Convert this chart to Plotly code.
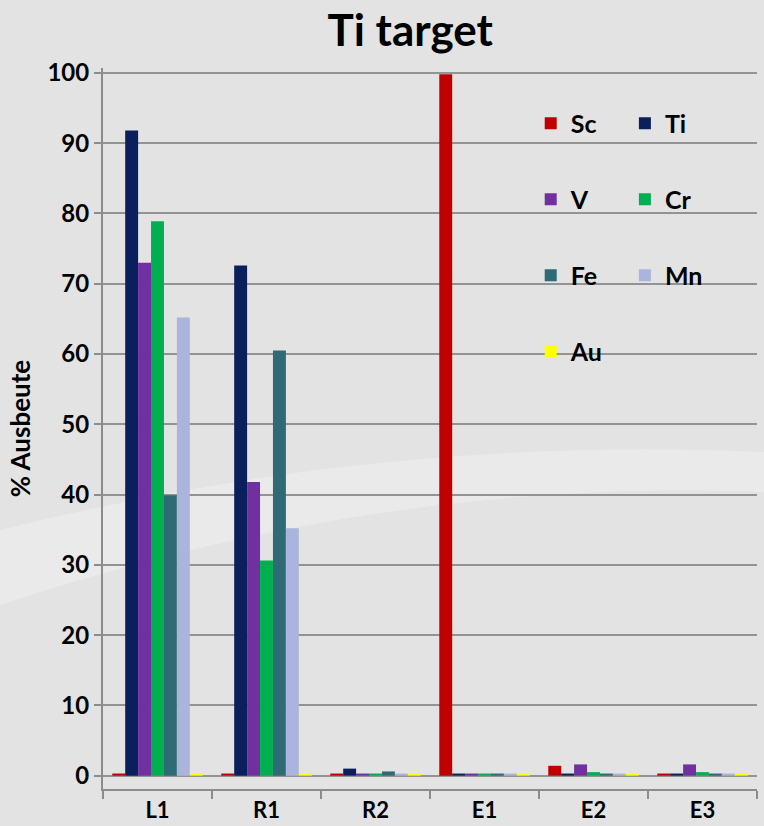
import plotly.graph_objects as go

# Yield per fraction and element
categories = ["L1", "R1", "R2", "E1", "E2", "E3"]
elements = ["Sc", "Ti", "V", "Cr", "Fe", "Mn", "Au"]
sc = [0.3, 0.3, 0.3, 99.8, 1.4, 0.3]
ti = [91.8, 72.6, 1.0, 0.3, 0.3, 0.3]
v = [73.0, 41.8, 0.3, 0.3, 1.6, 1.6]
cr = [78.9, 30.6, 0.3, 0.3, 0.5, 0.5]
fe = [39.9, 60.5, 0.6, 0.3, 0.3, 0.3]
mn = [65.2, 35.2, 0.3, 0.3, 0.3, 0.3]
au = [0.3, 0.3, 0.3, 0.3, 0.3, 0.3]
y_ticks = [0, 10, 20, 30, 40, 50, 60, 70, 80, 90, 100]

series = [sc, ti, v, cr, fe, mn, au]
colors = ["#c00000", "#0a1f5c", "#7030a0", "#00b050", "#2e6b75", "#aab4dc", "#ffff00"]
# first legend column: Sc, V, Fe, Au; second: Ti, Cr, Mn
legend_of = ["legend", "legend2", "legend", "legend2", "legend", "legend2", "legend"]

FONT = "Lato"

fig = go.Figure()
for name, vals, col, lg in zip(elements, series, colors, legend_of):
    fig.add_trace(go.Bar(
        x=categories, y=vals, name=name,
        marker=dict(color=col, line=dict(width=0)),
        legend=lg, legendgroup=name,
    ))

# soft light swoosh in the background
def px(x, y):
    return (x - 103) / 654, (789 - y) / 721

pts_top = [px(0, 530), px(250, 468), px(500, 440), px(764, 452)]
pts_bot = [px(764, 492), px(500, 482), px(250, 522), px(0, 605)]
path = (f"M {pts_top[0][0]},{pts_top[0][1]} "
        f"C {pts_top[1][0]},{pts_top[1][1]} {pts_top[2][0]},{pts_top[2][1]} {pts_top[3][0]},{pts_top[3][1]} "
        f"L {pts_bot[0][0]},{pts_bot[0][1]} "
        f"C {pts_bot[1][0]},{pts_bot[1][1]} {pts_bot[2][0]},{pts_bot[2][1]} {pts_bot[3][0]},{pts_bot[3][1]} Z")
fig.add_shape(type="path", path=path, xref="paper", yref="paper",
              fillcolor="rgba(255,255,255,0.25)", line=dict(width=0), layer="below")

legend_common = dict(
    font=dict(family=FONT, size=25, color="#000000", weight="bold"),
    bgcolor="rgba(0,0,0,0)", tracegroupgap=40.5, itemsizing="constant",
    xanchor="left", yanchor="top", traceorder="grouped",
)
fig.update_layout(
    width=764, height=826,
    margin=dict(l=103, r=7, t=68, b=37),
    paper_bgcolor="#e3e3e3", plot_bgcolor="rgba(0,0,0,0)",
    title=dict(text="Ti target", x=0.537, xanchor="center", y=0.963, yanchor="middle",
               font=dict(family=FONT, size=44, color="#000000", weight="bold")),
    barmode="group", bargap=0.17, bargroupgap=0,
    showlegend=True,
    legend=dict(x=0.654, y=0.955, **legend_common),
    legend2=dict(x=0.798, y=0.955, **legend_common),
    xaxis=dict(
        automargin=False,
        showline=True, linecolor="#8c8c8c", linewidth=2,
        ticks="outside", ticklen=8, tickcolor="#8c8c8c", tickwidth=2,
        tickson="boundaries", showgrid=False, ticklabelstandoff=1,
        tickfont=dict(family=FONT, size=22, color="#000000", weight="bold"),
    ),
    yaxis=dict(
        automargin=False,
        range=[-1.9, 100.7], tickvals=y_ticks,
        showline=True, linecolor="#8c8c8c", linewidth=2,
        ticks="outside", ticklen=7, tickcolor="#8c8c8c", tickwidth=2,
        showgrid=True, gridcolor="#939393", gridwidth=2, zeroline=False,
        tickfont=dict(family=FONT, size=24, color="#000000", weight="bold"),
        title=dict(text="% Ausbeute", standoff=9,
                   font=dict(family=FONT, size=26, color="#000000", weight="bold")),
    ),
)

fig.write_html("out.html")
